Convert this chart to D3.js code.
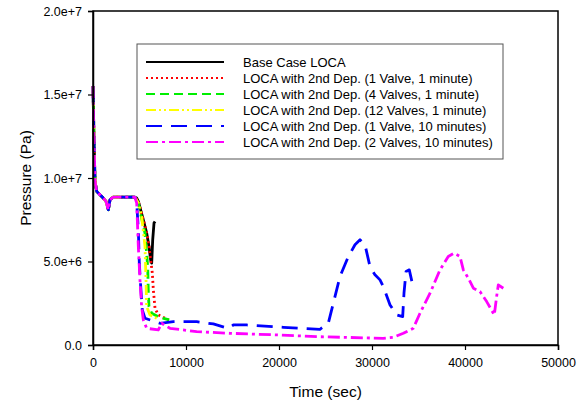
<!DOCTYPE html>
<html><head><meta charset="utf-8">
<script src="https://cdn.jsdelivr.net/npm/d3@7"></script>
<style>body{margin:0;background:#fff}svg{display:block}text{font-family:"Liberation Sans",Arial,sans-serif}</style>
</head><body><svg id="c" width="584" height="405"></svg>
<script>
const xTicks = [0,10000,20000,30000,40000,50000];
const yTicks = [0,5e6,1e7,1.5e7,2e7];
const yTickLabels = ["0.0","5.0e+6","1.0e+7","1.5e+7","2.0e+7"];
const seriesNames = ["Base Case LOCA","LOCA with 2nd Dep. (1 Valve, 1 minute)","LOCA with 2nd Dep. (4 Valves, 1 minute)","LOCA with 2nd Dep. (12 Valves, 1 minute)","LOCA with 2nd Dep. (1 Valve, 10 minutes)","LOCA with 2nd Dep. (2 Valves, 10 minutes)"];
const early = [[0,15.5e6],[100,12.5e6],[215,9.8e6],[400,9.2e6],[750,9.0e6],[1100,8.8e6],[1400,8.6e6],[1650,8.1e6],[1830,8.7e6],[2180,8.85e6],[4500,8.85e6]];
const baseCase = early.concat([[4700,8.8e6],[4875,8.6e6],[5410,7.5e6],[5770,6.7e6],[6020,5.9e6],[6200,5.1e6],[6310,4.9e6],[6420,6.3e6],[6560,7.3e6],[6670,7.4e6]]);
const v1m1 = early.concat([[4875,8.6e6],[5410,7.5e6],[5770,6.7e6],[6020,5.9e6],[6200,5.1e6],[6380,4.3e6],[6490,3.3e6],[6670,2.2e6],[7030,1.8e6],[8100,1.5e6]]);
const v4m1 = early.concat([[4875,8.5e6],[5300,7.4e6],[5590,6.7e6],[5880,4.7e6],[5950,3.1e6],[6020,2.3e6],[6310,1.9e6],[7200,1.65e6],[8200,1.5e6]]);
const v12m1 = early.concat([[4875,8.5e6],[5230,7.7e6],[5590,5.9e6],[5700,3.9e6],[5770,2.3e6],[6130,1.8e6],[6850,1.6e6]]);
const v1m10 = early.concat([[4700,8.5e6],[4875,6.9e6],[4980,4.9e6],[5130,3.5e6],[5300,2.1e6],[5590,1.6e6],[7200,1.3e6],[8640,1.4e6],[11150,1.4e6],[12940,1.26e6],[14550,1.0e6],[15090,1.2e6],[16530,1.2e6],[20470,1.06e6],[24400,0.94e6],[25300,1.3e6],[25840,2.5e6],[26560,4.1e6],[27460,5.3e6],[28170,6.0e6],[28710,6.3e6],[29250,6.0e6],[29780,4.7e6],[30320,4.2e6],[30860,3.9e6],[31220,3.5e6],[31940,2.4e6],[32650,1.8e6],[33300,1.7e6],[33440,3.1e6],[33660,4.4e6],[34010,4.5e6],[34370,3.6e6]]);
const v2m10 = early.concat([[4700,8.5e6],[4875,5.9e6],[5050,3.9e6],[5230,2.3e6],[5410,1.5e6],[5770,1.0e6],[7030,0.9e6],[7380,1.3e6],[8280,1.0e6],[11150,0.8e6],[14730,0.7e6],[20100,0.6e6],[24050,0.5e6],[31200,0.4e6],[32300,0.46e6],[33370,0.7e6],[34440,1.0e6],[35160,1.9e6],[36240,3.1e6],[37310,4.5e6],[38200,5.3e6],[38820,5.5e6],[39460,5.3e6],[39820,4.5e6],[40360,4.0e6],[40900,3.4e6],[41610,3.2e6],[42330,2.6e6],[43150,1.8e6],[43400,2.9e6],[43580,3.6e6],[44120,3.4e6]]);

const seriesData = [baseCase,v1m1,v4m1,v12m1,v1m10,v2m10];
const colors = ["#000000","#ff0000","#00ee00","#ffff00","#0000ff","#ff00ff"];
const dashes = ["none","2,3","9,5","10,3,2,3,2,3","16,9","12,4,3,4"];

const svg = d3.select("#c");
const L=93,R=558,T=11,B=345;
const x = d3.scaleLinear().domain([0,50000]).range([L,R]);
const y = d3.scaleLinear().domain([0,2e7]).range([B,T]);

const line = d3.line().x(d=>x(d[0])).y(d=>y(d[1]));
const g = svg.append("g");
seriesData.forEach((s,i)=>{
  g.append("path").attr("d",line(s)).attr("fill","none").attr("stroke",colors[i])
   .attr("stroke-width",2.8).attr("stroke-dasharray",dashes[i]).attr("stroke-linejoin","round");
});

svg.append("rect").attr("x",L).attr("y",T).attr("width",R-L).attr("height",B-T).attr("fill","none").attr("stroke","#000").attr("stroke-width",1.5);

const xa = svg.append("g").attr("transform",`translate(0,${B})`)
  .call(d3.axisBottom(x).tickValues(xTicks).tickSize(5).tickPadding(8).tickFormat(d3.format("d")));
const ya = svg.append("g").attr("transform",`translate(${L},0)`)
  .call(d3.axisLeft(y).tickValues(yTicks).tickSize(5).tickPadding(6).tickFormat((d,i)=>yTickLabels[i]));
[xa,ya].forEach(a=>{a.select(".domain").attr("stroke-width",1.5);a.selectAll(".tick line").attr("stroke-width",1.2);a.selectAll("text").attr("font-size",12.5).attr("fill","#000").style("font-family","Liberation Sans, Arial, sans-serif");});

svg.append("text").attr("x",(L+R)/2).attr("y",397).attr("text-anchor","middle").attr("font-size",15.5).text("Time (sec)");
svg.append("text").attr("transform",`translate(30.5,${(T+B)/2}) rotate(-90)`).attr("text-anchor","middle").attr("font-size",15.5).text("Pressure (Pa)");

const lg = svg.append("g");
lg.append("rect").attr("x",137).attr("y",44).attr("width",366).attr("height",115).attr("fill","#fff").attr("stroke","#555").attr("stroke-width",1);
seriesNames.forEach((n,i)=>{
  const yy = 62 + i*16;
  lg.append("line").attr("x1",146).attr("x2",224).attr("y1",yy).attr("y2",yy).attr("stroke",colors[i]).attr("stroke-width",2).attr("stroke-dasharray",dashes[i]);
  lg.append("text").attr("x",243).attr("y",yy+4.5).attr("font-size",13).text(n);
});
</script></body></html>
